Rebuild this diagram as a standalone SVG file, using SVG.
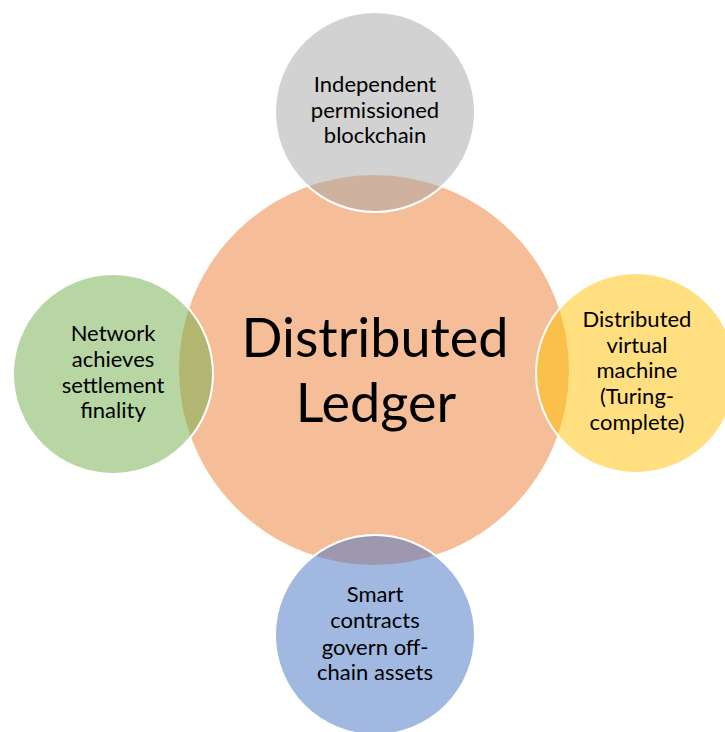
<svg xmlns="http://www.w3.org/2000/svg" width="725" height="732" viewBox="0 0 725 732">
<style>
.c{fill-opacity:0.5;stroke:#ffffff;stroke-width:2}
.t{font-family:Lato,"Open Sans","Liberation Sans",sans-serif;fill:#000;text-anchor:middle}
.s{font-size:22px}
.b{font-size:54px}
</style>
<rect width="725" height="732" fill="#ffffff"/>
<g id="distributed-ledger">
<circle class="c" cx="374" cy="370" r="196" fill="#ED7D31"/>
<text class="t b" x="375" y="357">Distributed</text>
<text class="t b" x="376" y="422">Ledger</text>
</g>
<g id="independent-permissioned-blockchain">
<circle class="c" cx="375" cy="112" r="100" fill="#A5A5A5"/>
<text class="t s" x="375" y="92">Independent</text>
<text class="t s" x="375" y="118">permissioned</text>
<text class="t s" x="375" y="143">blockchain</text>
</g>
<g id="network-settlement-finality">
<circle class="c" cx="113" cy="374" r="100" fill="#70AD47"/>
<text class="t s" x="113" y="341">Network</text>
<text class="t s" x="113" y="367">achieves</text>
<text class="t s" x="113" y="393">settlement</text>
<text class="t s" x="113" y="418">finality</text>
</g>
<g id="distributed-virtual-machine">
<circle class="c" cx="636" cy="373" r="100" fill="#FFC000"/>
<text class="t s" x="637" y="327">Distributed</text>
<text class="t s" x="637" y="353">virtual</text>
<text class="t s" x="637" y="378">machine</text>
<text class="t s" x="637" y="404">(Turing-</text>
<text class="t s" x="637" y="430">complete)</text>
</g>
<g id="smart-contracts">
<circle class="c" cx="375" cy="635" r="100" fill="#4472C4"/>
<text class="t s" x="375" y="602">Smart</text>
<text class="t s" x="375" y="628">contracts</text>
<text class="t s" x="375" y="655">govern off-</text>
<text class="t s" x="375" y="680">chain assets</text>
</g>
</svg>
